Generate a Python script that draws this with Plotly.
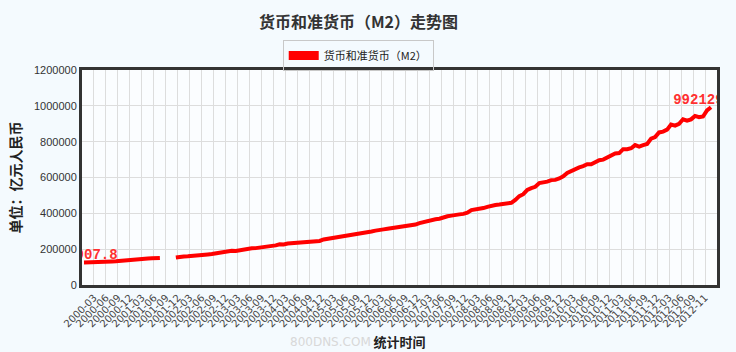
import plotly.graph_objects as go

# Monthly M2 (亿元); three missing entries appear as a gap in the line
m2 = [
    125907.8, 126000, 127000, 126600, 127600, 129000, 130500, 130900, 132000, 134610,
    137000, 137800, 141600, 142000, 143500, 147800, 147600, 148900, 151000, 150800,
    None, None, None,
    153700, 158302,
    159640, 160940, 164064, 164600, 166000, 169600, 170800, 173000, 176982, 177000, 179700, 185007,
    190500, 190100, 194487, 196100, 199500, 204900, 205800, 208600, 213567, 212300, 215800, 221223,
    227000, 226500, 231700, 234000, 234500, 238400, 237400, 239500, 243800, 243500, 246000, 254107,
    257700, 259000, 264600, 266900, 269200, 275800, 276900, 281300, 287400, 287600, 291000, 298756,
    303600, 304500, 310500, 314000, 316700, 322800, 322500, 327600, 331900, 332700, 337500, 345604,
    351500, 358700, 364100, 367300, 369700, 377800, 383900, 387200, 393100, 394200, 397000, 403442,
    417800, 421000, 423100, 429300, 436200, 443100, 446400, 448800, 452900, 453100, 458600, 475167,
    496135, 506708, 530627, 540481, 548264, 568916, 571741, 576699, 585405, 586643, 594604, 606225,
    625609, 636072, 649948, 656561, 663351, 673921, 674051, 687506, 696471, 699776, 710339, 725852,
    733884, 736131, 758131, 757385, 763409, 780821, 772923, 780853, 787406, 816829, 825493, 851591,
    855898, 867171, 895565, 889605, 900049, 924991, 917300, 924500, 943688, 936404, 940500, 974149,
    992129.25,
]

tick_labels = [f"{y}-{m:02d}" for y in range(2000, 2013) for m in (3, 6, 9, 12)][:51] + ["2012-11"]

y_ticks = [0, 200000, 400000, 600000, 800000, 1000000, 1200000]

series_name = "货币和准货币（M2）"

x_idx = list(range(len(m2)))
labels = ["" for _ in m2]
labels[0] = f"{m2[0]}"
labels[-1] = f"{m2[-1]}"

tick_pos = [2.5 + 3 * k for k in range(len(tick_labels))]

fig = go.Figure()
fig.add_trace(go.Scatter(
    x=x_idx, y=m2, mode="lines+text", text=labels, textposition="top center",
    textfont=dict(family="Liberation Mono", size=14, color="#FF3030", weight="bold"),
    line=dict(color="#FF0000", width=4), connectgaps=False, showlegend=False,
    cliponaxis=True, hoverinfo="y",
))
fig.add_trace(go.Scatter(
    x=[None], y=[None], mode="lines", name=series_name,
    line=dict(color="#FF0000", width=9), showlegend=True,
))

fig.update_layout(
    width=736, height=352,
    margin=dict(l=82, r=19, t=70, b=67),
    paper_bgcolor="#F4FAFE",
    plot_bgcolor="#FBFDFF",
    title=dict(text="货币和准货币（M2）走势图", x=0.487, xanchor="center", y=0.935, yanchor="middle",
               font=dict(family="Noto Sans CJK SC", size=16, color="#333333", weight="bold")),
    legend=dict(orientation="h", x=0.435, xanchor="center", y=1.14, yanchor="top",
                bordercolor="#C8C8C8", borderwidth=1, bgcolor="rgba(0,0,0,0)",
                font=dict(family="Noto Sans CJK SC", size=11, color="#222222"),
                itemwidth=30, tracegroupgap=0),
    xaxis=dict(range=[-0.5, len(m2) + 0.5], tickmode="array", tickvals=tick_pos, ticktext=tick_labels,
               tickangle=-45, tickfont=dict(family="DejaVu Sans", size=10, color="#444444"),
               showgrid=True, gridcolor="#DDDDDD", gridwidth=1, zeroline=False, automargin=False,
               showline=True, linecolor="#333333", linewidth=3, mirror=True, ticks="",
               title=dict(text="统计时间", standoff=10,
                          font=dict(family="Noto Sans CJK SC", size=13, color="#222222", weight="bold"))),
    yaxis=dict(range=[0, 1200000], tickmode="array", tickvals=y_ticks, ticktext=[str(v) for v in y_ticks],
               tickfont=dict(family="Liberation Sans", size=11, color="#333333"), automargin=False,
               showgrid=True, gridcolor="#DDDDDD", gridwidth=1, zeroline=False,
               showline=True, linecolor="#333333", linewidth=3, mirror=True, ticks="",
               title=dict(text="单位：亿元人民币", standoff=10,
                          font=dict(family="Noto Sans CJK SC", size=14, color="#222222", weight="bold"))),
    annotations=[dict(text="800DNS.COM", xref="paper", yref="paper", x=0.392, y=-0.265,
                      xanchor="center", yanchor="middle", showarrow=False,
                      font=dict(family="DejaVu Sans", size=12, color="#D8D8D8"))],
)

fig.write_html("out.html")
